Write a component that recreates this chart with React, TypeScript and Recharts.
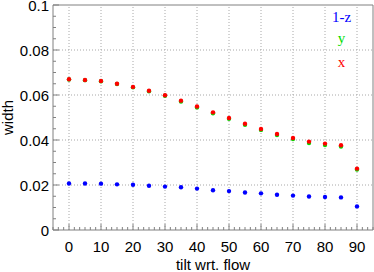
import { ScatterChart, Scatter, XAxis, YAxis, ReferenceLine } from 'recharts'

// tilt angles (degrees wrt. flow)
const tilt = [0, 5, 10, 15, 20, 25, 30, 35, 40, 45, 50, 55, 60, 65, 70, 75, 80, 85, 90]

// widths
const widthX = [
  0.067, 0.0667, 0.0662, 0.065, 0.0636, 0.0619, 0.0599, 0.0575, 0.0549, 0.0523,
  0.0498, 0.0472, 0.0449, 0.0427, 0.0409, 0.0393, 0.0384, 0.0377, 0.0273,
]
const widthY = [
  0.0669, 0.0666, 0.0661, 0.0649, 0.0634, 0.0617, 0.0597, 0.0571, 0.0545, 0.0519,
  0.0494, 0.0468, 0.0445, 0.0422, 0.0404, 0.0387, 0.0378, 0.0371, 0.0269,
]
const widthZ = [
  0.0207, 0.0207, 0.0206, 0.0203, 0.0201, 0.0197, 0.0193, 0.019, 0.0184, 0.0177,
  0.0173, 0.0167, 0.0163, 0.0157, 0.0153, 0.0149, 0.0147, 0.0145, 0.0105,
]

const xMajor = [0, 10, 20, 30, 40, 50, 60, 70, 80, 90]
const yMajor = [0, 0.02, 0.04, 0.06, 0.08, 0.1]
const yLabels = ['0', '0.02', '0.04', '0.06', '0.08', '0.1']

const legend = [
  { text: '1-z', color: '#0000ff' },
  { text: 'y', color: '#00dd00' },
  { text: 'x', color: '#ff0000' },
]

const FONT = '"Liberation Sans", Arial, sans-serif'
const FRAME = '#808080'
const GRID = '#a8a8a8'

// minor ticks: 6 per major on x, 4 per major on y
const xTicks: number[] = []
for (let i = -3; i <= 57; i++) xTicks.push(Math.round((i * 10) / 6 * 1000) / 1000)
const yTicks: number[] = []
for (let i = 0; i <= 20; i++) yTicks.push(Math.round(i * 0.005 * 1000) / 1000)

const isXMajor = (v: number) => xMajor.some((m) => Math.abs(m - v) < 1e-6)
const yMajorIndex = (v: number) => yMajor.findIndex((m) => Math.abs(m - v) < 1e-6)

function XTick({ x, y, payload }: any) {
  const major = isXMajor(payload.value)
  return (
    <g>
      <line x1={x} x2={x} y1={y} y2={y - (major ? 6 : 3)} stroke={FRAME} />
      {major && (
        <text x={x} y={y + 11} dy="0.71em" textAnchor="middle" fontSize={15} fontFamily={FONT} fill="#000">
          {payload.value}
        </text>
      )}
    </g>
  )
}

function YTick({ x, y, payload }: any) {
  const idx = yMajorIndex(payload.value)
  const major = idx >= 0
  return (
    <g>
      <line x1={x} x2={x + (major ? 6 : 3)} y1={y} y2={y} stroke={FRAME} />
      {major && (
        <text x={x - 4} y={y} dy="0.42em" textAnchor="end" fontSize={15} fontFamily={FONT} fill="#000">
          {yLabels[idx]}
        </text>
      )}
    </g>
  )
}

const dot = (color: string) => (props: any) => <circle cx={props.cx} cy={props.cy} r={2.2} fill={color} />

export default function App() {
  const rows = (w: number[]) => tilt.map((t, i) => ({ tilt: t, w: w[i] }))

  return (
    <div style={{ position: 'absolute', left: 0, top: 0, width: 374, height: 272, background: '#fff' }}>
      <ScatterChart width={374} height={272} margin={{ top: 5, right: 1, left: 0, bottom: 0 }}>
        <XAxis
          type="number"
          dataKey="tilt"
          domain={[-5, 95]}
          ticks={xTicks}
          interval={0}
          allowDataOverflow
          height={42}
          tickSize={0}
          tickMargin={0}
          tickLine={false}
          axisLine={{ stroke: FRAME }}
          tick={<XTick />}
          label={{ value: 'tilt wrt. flow', position: 'insideBottom', offset: 2, fontSize: 15, fontFamily: FONT, fill: '#000' }}
        />
        <YAxis
          type="number"
          dataKey="w"
          domain={[0, 0.1]}
          ticks={yTicks}
          interval={0}
          allowDataOverflow
          width={53}
          tickSize={0}
          tickMargin={0}
          tickLine={false}
          axisLine={{ stroke: FRAME }}
          tick={<YTick />}
          label={{
            value: 'width',
            angle: -90,
            position: 'insideLeft',
            offset: 7.5,
            fontSize: 15,
            fontFamily: FONT,
            fill: '#000',
            style: { textAnchor: 'middle' },
          }}
        />
        {xMajor.map((v) => (
          <ReferenceLine key={'gx' + v} x={v} stroke={GRID} strokeDasharray="1 2" />
        ))}
        {yMajor.slice(1, -1).map((v) => (
          <ReferenceLine key={'gy' + v} y={v} stroke={GRID} strokeDasharray="1 2" />
        ))}
        <ReferenceLine y={0.1} stroke={FRAME} />
        <ReferenceLine x={95} stroke={FRAME} />
        <Scatter data={rows(widthZ)} fill="#0000ff" shape={dot('#0000ff')} isAnimationActive={false} />
        <Scatter data={rows(widthY)} fill="#00dd00" shape={dot('#00dd00')} isAnimationActive={false} />
        <Scatter data={rows(widthX)} fill="#ff0000" shape={dot('#ff0000')} isAnimationActive={false} />
      </ScatterChart>
      <svg width={374} height={272} style={{ position: 'absolute', left: 0, top: 0, pointerEvents: 'none' }}>
        {legend.map((l, i) => (
          <text
            key={l.text}
            x={341.5}
            y={[21.7, 43.4, 66.7][i]}
            textAnchor="middle"
            fontSize={15}
            fontFamily='"Liberation Serif", "Times New Roman", serif'
            fill={l.color}
          >
            {l.text}
          </text>
        ))}
      </svg>
    </div>
  )
}
